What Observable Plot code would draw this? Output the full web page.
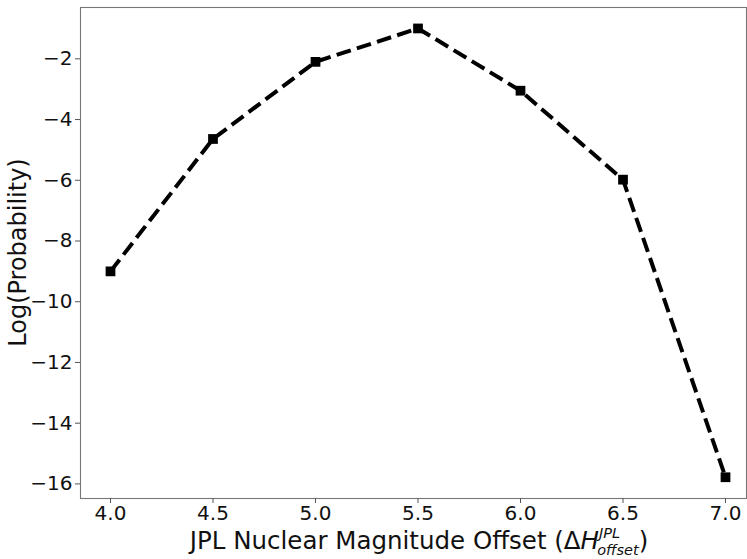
<!DOCTYPE html>
<html>
<head>
<meta charset="utf-8">
<script src="https://cdn.jsdelivr.net/npm/d3@7"></script>
<script src="https://cdn.jsdelivr.net/npm/@observablehq/plot@0.6"></script>
<style>
  html, body { margin: 0; padding: 0; background: #fff; }
  svg { display: block; }
</style>
</head>
<body>
<div id="chart"></div>
<script>
const offsets = [4.0, 4.5, 5.0, 5.5, 6.0, 6.5, 7.0];
const logProb = [-9.0, -4.64, -2.1, -1.0, -3.05, -5.98, -15.78];
const xTicks = [4.0, 4.5, 5.0, 5.5, 6.0, 6.5, 7.0];
const yTicks = [-16, -14, -12, -10, -8, -6, -4, -2];
const yLabel = "Log(Probability)";
const xLabelMain = "JPL Nuclear Magnitude Offset (Δ";

const data = offsets.map((x, i) => ({x, y: logProb[i]}));
const font = "DejaVu Sans, sans-serif";

const W = 747, H = 559;
const mL = 80, mR = 1, mT = 7, mB = 61;

const chart = Plot.plot({
  width: W,
  height: H,
  marginLeft: mL,
  marginRight: mR,
  marginTop: mT,
  marginBottom: mB,
  style: {fontFamily: font, background: "#fff"},
  x: {domain: [3.8537, 7.1024]},
  y: {domain: [-16.48, -0.31]},
  marks: [
    Plot.frame({stroke: "#777", strokeWidth: 1.1}),
    Plot.axisX(xTicks, {tickSize: 5, tickPadding: 2, fontSize: 20, tickFormat: d3.format(".1f"), stroke: "#555", fill: "#111", label: null}),
    Plot.axisY(yTicks, {tickSize: 5, tickPadding: 3, fontSize: 20, tickFormat: d => (d < 0 ? "\u2212" : "") + Math.abs(d), stroke: "#555", fill: "#111", label: null}),
    Plot.line(data, {x: "x", y: "y", stroke: "#000", strokeWidth: 4, strokeDasharray: "14.8,6.4", strokeLinecap: "butt", strokeLinejoin: "round"}),
    Plot.dot(data, {x: "x", y: "y", symbol: "square", r: 5.5, fill: "#000", stroke: "none"})
  ]
});

const svg = d3.select(chart);
// y-axis label
svg.append("text")
  .attr("transform", `translate(26,${(mT + H - mB) / 2}) rotate(-90)`)
  .attr("text-anchor", "middle")
  .attr("font-family", font)
  .attr("font-size", 24)
  .attr("fill", "#111")
  .text(yLabel);

// x-axis label with super/subscripts
const xl = svg.append("text")
  .attr("x", 419)
  .attr("y", 549)
  .attr("text-anchor", "middle")
  .attr("font-family", font)
  .attr("font-size", 24.5)
  .attr("fill", "#111");
xl.append("tspan").text(xLabelMain);
xl.append("tspan").attr("font-style", "italic").text("H");
xl.append("tspan").attr("font-style", "italic").attr("font-size", 14.5).attr("dy", -11).text("JPL");
xl.append("tspan").attr("font-style", "italic").attr("font-size", 14.5).attr("dx", -23).attr("dy", 17).text("offset");
xl.append("tspan").attr("dy", -6).text(")");

document.getElementById("chart").appendChild(chart);
</script>
</body>
</html>
